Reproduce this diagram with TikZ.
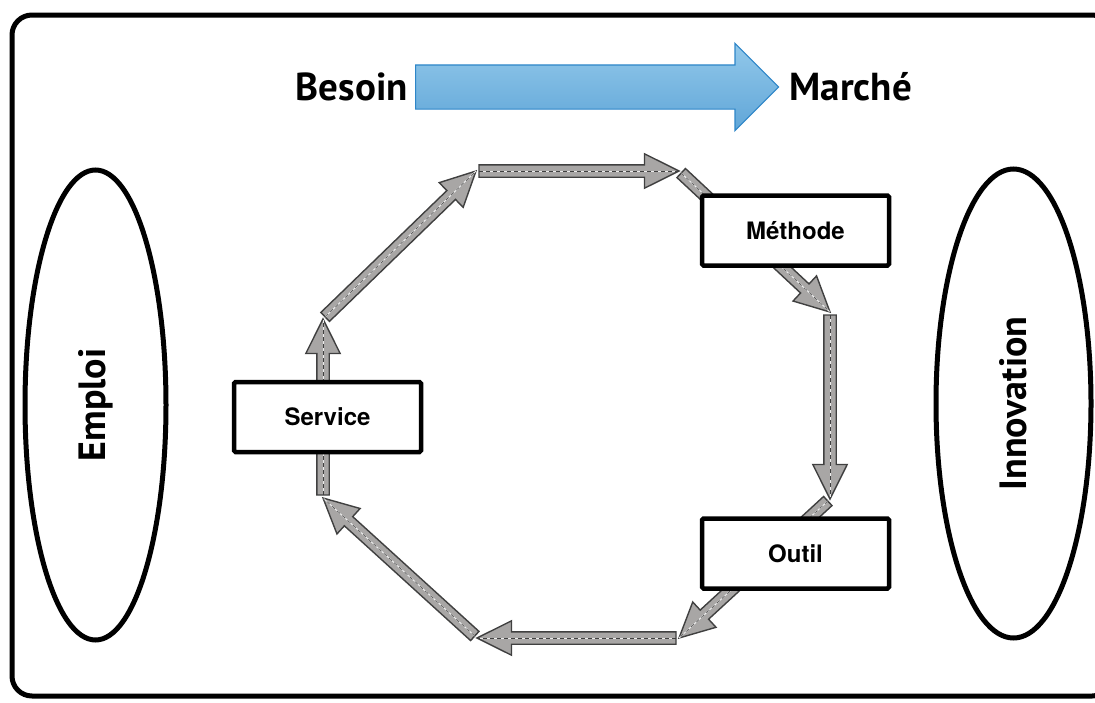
\documentclass[tikz,border=0pt]{standalone}
\usepackage{fontspec}
\usepackage{tikz}
\usetikzlibrary{arrows.meta, positioning, calc, shapes.geometric, shapes.arrows, backgrounds}
\newfontfamily\bigfont{PT Sans}
\newfontfamily\boxfont{TeX Gyre Heros}
\definecolor{arrowgray}{RGB}{168,166,165}
\definecolor{arrowedge}{RGB}{64,64,64}
\definecolor{skytop}{RGB}{146,200,234}
\definecolor{skybottom}{RGB}{96,166,216}
\definecolor{skyedge}{RGB}{46,134,200}

\begin{document}
\begin{tikzpicture}[
  x=1pt, y=-1pt,
  box/.style={draw, line width=4.5pt, rounded corners=1.5pt, fill=white, minimum width=187pt, minimum height=70pt, font=\boxfont\bfseries\fontsize{24}{28}\selectfont},
  ring/.style={draw, line width=5pt, ellipse, rotate=90, inner sep=0pt, font=\bigfont\bfseries\fontsize{38}{44}\selectfont},
  fatarrow/.style={single arrow, draw=arrowedge, fill=arrowgray, line width=1.4pt, inner xsep=0pt, inner ysep=5.5pt, single arrow head extend=11pt, single arrow tip angle=53, single arrow head indent=0pt, outer sep=0pt},
  midline/.style={gray!15, line width=1pt, postaction={draw=arrowedge, line width=0.5pt, dash pattern=on 4pt off 3pt}},
  bigword/.style={font=\bigfont\bfseries\fontsize{39}{45}\selectfont, inner sep=0pt}
]
\useasboundingbox (0,0) rectangle (1095,702);
\clip (0,0) rectangle (1095,702);
\draw[line width=5pt, rounded corners=20pt] (12,15) rectangle (1112,696);

% top flow
\node[single arrow, draw=skyedge, line width=1.2pt, top color=skytop, bottom color=skybottom, minimum height=363pt, inner xsep=0pt, inner ysep=21.5pt, single arrow head extend=21.5pt, single arrow tip angle=90, single arrow head indent=0pt, anchor=tail] (flow) at (415,87) {};
\node[bigword, left=7pt of flow.tail] (need) {Besoin};
\node[bigword, right=10pt of flow.tip] (market) {Marché};

% side ellipses
\node[ring, minimum width=470pt, minimum height=141pt] (emploi) at (95.5,405) {Emploi};
\node[ring, minimum width=469pt, minimum height=155pt] (innov) at (1013.5,403.5) {Innovation};

% boxes on the loop
\node[box] (service) at (327.5,417) {Service};
\node[box] (methode) at (795.5,230.5) {Méthode};
\node[box] (outil) at (795.5,553.5) {Outil};

% loop corners
\coordinate (p1) at (323,319);
\coordinate (p2) at (476,171);
\coordinate (p3) at (679,171);
\coordinate (p4) at (830,312);
\coordinate (p5) at (830,499);
\coordinate (p6) at (679,638);
\coordinate (p7) at (477,638);
\coordinate (p8) at (323,498);

\begin{scope}[on background layer]
\foreach \a/\b in {p8/p1, p1/p2, p2/p3, p3/p4, p4/p5, p5/p6, p6/p7, p7/p8} {
  \path let \p1=(\a), \p2=(\b), \n1={veclen(\x2-\x1,\y2-\y1)-3}, \n2={atan2(\y2-\y1,\x2-\x1)}
    in node[fatarrow, minimum height=\n1, rotate=\n2, anchor=tail] (arr-\a) at ($(\a)!3pt!(\b)$) {};
  \draw[midline] ($(\a)!3pt!(\b)$) -- (\b);
}
\end{scope}
\end{tikzpicture}
\end{document}
